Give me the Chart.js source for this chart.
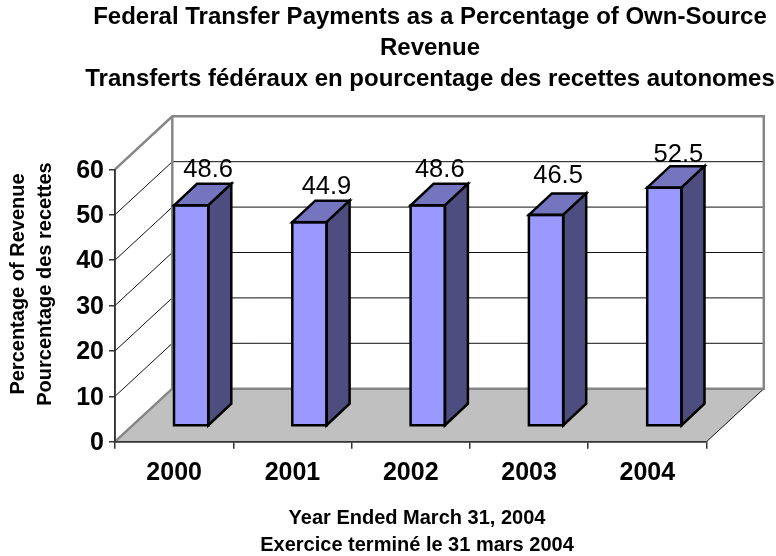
<!DOCTYPE html>
<html><head><meta charset="utf-8">
<style>html,body{margin:0;padding:0;background:#fff}#w{width:776px;height:556px;position:relative}</style>
<script src="https://cdn.jsdelivr.net/npm/chart.js@4"></script></head>
<body><div id="w"><canvas id="c"></canvas></div>
<script>
const categories = ['2000','2001','2002','2003','2004'];
const values = [48.6,44.9,48.6,46.5,52.5];
const valueLabels = ['48.6','44.9','48.6','46.5','52.5'];
const yTicks = [0,10,20,30,40,50,60];
const chartTitle = ['Federal Transfer Payments as a Percentage of Own-Source','Revenue','Transferts fédéraux en pourcentage des recettes autonomes'];
const yTitle = ['Percentage of Revenue','Pourcentage des recettes'];
const xTitle = ['Year Ended March 31, 2004','Exercice terminé le 31 mars 2004'];
const FONT = '"Liberation Sans", Arial, sans-serif';
const wall = {dx:57.3, dy:-53};
const bar3d = {sx:17, sy:-15.7, dx:23, dy:-21.5};
const labelNudge = [[0,0],[0,0],[-5,0],[-5,-3],[-3,3]];

const scene = {
  id:'scene',
  beforeDatasetsDraw(chart){
    const {ctx,scales:{x,y}} = chart;
    const L=x.left,R=x.right,B=y.bottom,T=y.top;
    ctx.save();
    ctx.fillStyle='#C0C0C0';
    ctx.beginPath();ctx.moveTo(L,B);ctx.lineTo(L+wall.dx,B+wall.dy);ctx.lineTo(R+wall.dx,B+wall.dy);ctx.lineTo(R,B);ctx.closePath();ctx.fill();
    ctx.lineWidth=1;ctx.strokeStyle='#111';
    yTicks.slice(1,-1).forEach(v=>{
      const p=y.getPixelForValue(v);
      ctx.beginPath();ctx.moveTo(L,p);ctx.lineTo(L+wall.dx,p+wall.dy);ctx.lineTo(R+wall.dx,p+wall.dy);ctx.stroke();
    });
    ctx.beginPath();ctx.moveTo(R,B);ctx.lineTo(R+wall.dx,B+wall.dy);ctx.stroke();
    ctx.strokeStyle='#868686';ctx.lineWidth=2.5;
    ctx.beginPath();ctx.moveTo(L,T);ctx.lineTo(L+wall.dx,T+wall.dy);ctx.lineTo(R+wall.dx,T+wall.dy);ctx.lineTo(R+wall.dx,B+wall.dy);ctx.lineTo(L+wall.dx,B+wall.dy);ctx.lineTo(L,B);ctx.stroke();
    ctx.beginPath();ctx.moveTo(L+wall.dx,T+wall.dy);ctx.lineTo(L+wall.dx,B+wall.dy);ctx.stroke();
    ctx.strokeStyle='#333';ctx.lineWidth=1.5;
    ctx.beginPath();ctx.moveTo(L,T);ctx.lineTo(L,B);ctx.lineTo(R,B);ctx.stroke();
    ctx.restore();
    ctx.save();
    ctx.translate(bar3d.sx,bar3d.sy);
    chart.$shifted=true;
  },
  afterDatasetsDraw(chart){
    ctx_restore(chart);
    const {ctx} = chart;
    ctx.save();
    ctx.lineWidth=2.5;ctx.strokeStyle='#000';ctx.lineJoin='miter';
    chart.getDatasetMeta(0).data.forEach((b,i)=>{
      const hw=b.width/2,x0=b.x-hw+bar3d.sx,x1=b.x+hw+bar3d.sx,t=b.y+bar3d.sy,bt=b.base+bar3d.sy,dx=bar3d.dx,dy=bar3d.dy;
      ctx.fillStyle='#7575BF';
      ctx.beginPath();ctx.moveTo(x0,t);ctx.lineTo(x0+dx,t+dy);ctx.lineTo(x1+dx,t+dy);ctx.lineTo(x1,t);ctx.closePath();ctx.fill();ctx.stroke();
      ctx.fillStyle='#4D4D80';
      ctx.beginPath();ctx.moveTo(x1,t);ctx.lineTo(x1+dx,t+dy);ctx.lineTo(x1+dx,bt+dy);ctx.lineTo(x1,bt);ctx.closePath();ctx.fill();ctx.stroke();
      ctx.strokeRect(x0,t,x1-x0,bt-t);
      ctx.fillStyle='#000';ctx.font='25.5px '+FONT;ctx.textAlign='center';ctx.textBaseline='alphabetic';
      ctx.fillText(valueLabels[i],b.x+bar3d.sx+17+labelNudge[i][0],t+dy-7+labelNudge[i][1]);
    });
    ctx.restore();
  },
  afterDraw(chart){
    const {ctx}=chart;
    ctx.save();
    ctx.fillStyle='#000';ctx.textAlign='center';ctx.textBaseline='middle';
    ctx.font='bold 24px '+FONT;
    [17,48,79.5].forEach((y,i)=>ctx.fillText(chartTitle[i],430,y));
    ctx.font='bold 20px '+FONT;
    [518,545.5].forEach((y,i)=>ctx.fillText(xTitle[i],417,y));
    yTitle.forEach((t,i)=>{
      ctx.save();ctx.translate([18,45][i],284);ctx.rotate(-Math.PI/2);ctx.font='bold 20px '+FONT;ctx.fillText(t,0,0);ctx.restore();
    });
    ctx.restore();
  }
};
function ctx_restore(chart){ if(chart.$shifted){chart.ctx.restore();chart.$shifted=false;} }

new Chart(document.getElementById('c'),{
  type:'bar',
  data:{labels:categories,datasets:[{data:values,backgroundColor:'#9999FF',borderWidth:0,clip:false,barPercentage:0.29,categoryPercentage:1}]},
  plugins:[scene],
  options:{
    responsive:true,maintainAspectRatio:false,animation:false,
    layout:{padding:{left:0,right:69.5,top:169.3,bottom:0}},
    plugins:{legend:{display:false},title:{display:false},tooltip:{enabled:false}},
    scales:{
      x:{afterFit(s){s.height=114.3},
        grid:{drawOnChartArea:false,color:'#333',tickLength:7,lineWidth:1.5},border:{color:'#333',width:1.5},
        ticks:{color:'#000',font:{family:FONT,size:25,weight:'bold'},padding:9,maxRotation:0}},
      y:{min:0,max:60,afterFit(s){s.width=115},
        afterBuildTicks(s){s.ticks=yTicks.map(v=>({value:v}))},
        grid:{drawOnChartArea:false,color:'#333',tickLength:6,lineWidth:1.5},border:{color:'#333',width:1.5},
        ticks:{color:'#000',font:{family:FONT,size:25,weight:'bold'},padding:5,labelOffset:1.5}}
    }
  }
});
</script></body></html>
